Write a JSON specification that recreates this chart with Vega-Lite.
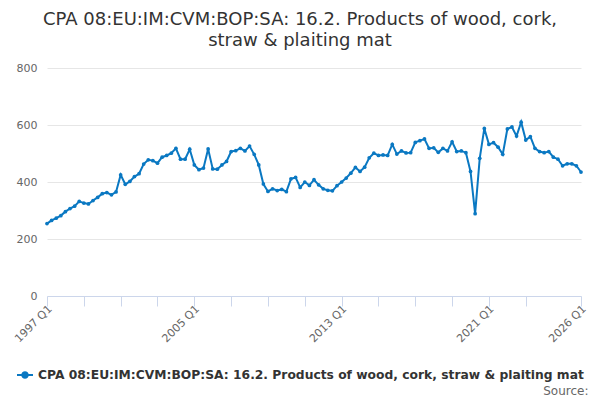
{
  "$schema": "https://vega.github.io/schema/vega-lite/v6.json",
  "title": {
    "text": ["CPA 08:EU:IM:CVM:BOP:SA: 16.2. Products of wood, cork,", "straw & plaiting mat"],
    "anchor": "middle",
    "frame": "group",
    "dx": -14,
    "offset": 12,
    "font": "DejaVu Sans",
    "fontSize": 18,
    "fontWeight": "normal",
    "color": "#333333",
    "lineHeight": 21
  },
  "autosize": "none",
  "width": 534,
  "height": 228,
  "padding": {"left": 47, "top": 68, "right": 19, "bottom": 104},
  "data": {
    "values": [
      {"q": "1997 Q1", "v": 254}, {"q": "1997 Q2", "v": 265}, {"q": "1997 Q3", "v": 273}, {"q": "1997 Q4", "v": 282},
      {"q": "1998 Q1", "v": 296}, {"q": "1998 Q2", "v": 307}, {"q": "1998 Q3", "v": 315}, {"q": "1998 Q4", "v": 332},
      {"q": "1999 Q1", "v": 326}, {"q": "1999 Q2", "v": 323}, {"q": "1999 Q3", "v": 335}, {"q": "1999 Q4", "v": 346},
      {"q": "2000 Q1", "v": 359}, {"q": "2000 Q2", "v": 363}, {"q": "2000 Q3", "v": 355}, {"q": "2000 Q4", "v": 365},
      {"q": "2001 Q1", "v": 425}, {"q": "2001 Q2", "v": 392}, {"q": "2001 Q3", "v": 402}, {"q": "2001 Q4", "v": 419},
      {"q": "2002 Q1", "v": 429}, {"q": "2002 Q2", "v": 463}, {"q": "2002 Q3", "v": 478}, {"q": "2002 Q4", "v": 475},
      {"q": "2003 Q1", "v": 466}, {"q": "2003 Q2", "v": 487}, {"q": "2003 Q3", "v": 493}, {"q": "2003 Q4", "v": 501},
      {"q": "2004 Q1", "v": 518}, {"q": "2004 Q2", "v": 480}, {"q": "2004 Q3", "v": 480}, {"q": "2004 Q4", "v": 515},
      {"q": "2005 Q1", "v": 460}, {"q": "2005 Q2", "v": 443}, {"q": "2005 Q3", "v": 449}, {"q": "2005 Q4", "v": 516},
      {"q": "2006 Q1", "v": 446}, {"q": "2006 Q2", "v": 445}, {"q": "2006 Q3", "v": 460}, {"q": "2006 Q4", "v": 472},
      {"q": "2007 Q1", "v": 507}, {"q": "2007 Q2", "v": 510}, {"q": "2007 Q3", "v": 518}, {"q": "2007 Q4", "v": 509},
      {"q": "2008 Q1", "v": 526}, {"q": "2008 Q2", "v": 497}, {"q": "2008 Q3", "v": 460}, {"q": "2008 Q4", "v": 393},
      {"q": "2009 Q1", "v": 367}, {"q": "2009 Q2", "v": 376}, {"q": "2009 Q3", "v": 370}, {"q": "2009 Q4", "v": 374},
      {"q": "2010 Q1", "v": 366}, {"q": "2010 Q2", "v": 411}, {"q": "2010 Q3", "v": 416}, {"q": "2010 Q4", "v": 381},
      {"q": "2011 Q1", "v": 400}, {"q": "2011 Q2", "v": 388}, {"q": "2011 Q3", "v": 408}, {"q": "2011 Q4", "v": 390},
      {"q": "2012 Q1", "v": 376}, {"q": "2012 Q2", "v": 371}, {"q": "2012 Q3", "v": 369}, {"q": "2012 Q4", "v": 387},
      {"q": "2013 Q1", "v": 400}, {"q": "2013 Q2", "v": 414}, {"q": "2013 Q3", "v": 431}, {"q": "2013 Q4", "v": 451},
      {"q": "2014 Q1", "v": 437}, {"q": "2014 Q2", "v": 452}, {"q": "2014 Q3", "v": 485}, {"q": "2014 Q4", "v": 501},
      {"q": "2015 Q1", "v": 493}, {"q": "2015 Q2", "v": 495}, {"q": "2015 Q3", "v": 493}, {"q": "2015 Q4", "v": 532},
      {"q": "2016 Q1", "v": 498}, {"q": "2016 Q2", "v": 509}, {"q": "2016 Q3", "v": 502}, {"q": "2016 Q4", "v": 503},
      {"q": "2017 Q1", "v": 539}, {"q": "2017 Q2", "v": 545}, {"q": "2017 Q3", "v": 551}, {"q": "2017 Q4", "v": 518},
      {"q": "2018 Q1", "v": 520}, {"q": "2018 Q2", "v": 504}, {"q": "2018 Q3", "v": 518}, {"q": "2018 Q4", "v": 509},
      {"q": "2019 Q1", "v": 541}, {"q": "2019 Q2", "v": 507}, {"q": "2019 Q3", "v": 509}, {"q": "2019 Q4", "v": 503},
      {"q": "2020 Q1", "v": 437}, {"q": "2020 Q2", "v": 289}, {"q": "2020 Q3", "v": 483}, {"q": "2020 Q4", "v": 588},
      {"q": "2021 Q1", "v": 532}, {"q": "2021 Q2", "v": 538}, {"q": "2021 Q3", "v": 522}, {"q": "2021 Q4", "v": 497},
      {"q": "2022 Q1", "v": 586}, {"q": "2022 Q2", "v": 593}, {"q": "2022 Q3", "v": 561}, {"q": "2022 Q4", "v": 610},
      {"q": "2023 Q1", "v": 547}, {"q": "2023 Q2", "v": 559}, {"q": "2023 Q3", "v": 518}, {"q": "2023 Q4", "v": 507},
      {"q": "2024 Q1", "v": 503}, {"q": "2024 Q2", "v": 507}, {"q": "2024 Q3", "v": 487}, {"q": "2024 Q4", "v": 480},
      {"q": "2025 Q1", "v": 457}, {"q": "2025 Q2", "v": 464}, {"q": "2025 Q3", "v": 464}, {"q": "2025 Q4", "v": 457},
      {"q": "2026 Q1", "v": 435}
    ]
  },
  "mark": {
    "type": "line",
    "strokeWidth": 2,
    "point": {"filled": true, "size": 14}
  },
  "encoding": {
    "x": {
      "field": "q",
      "type": "ordinal",
      "scale": {"type": "point", "padding": 0},
      "axis": {
        "title": "Source:",
        "titleX": 541,
        "titleY": 94,
        "titleAlign": "right",
        "titleBaseline": "middle",
        "titleFontWeight": "normal",
        "titleFontSize": 12,
        "titleColor": "#666666",
        "values": ["1997 Q1", "1999 Q1", "2001 Q1", "2003 Q1", "2005 Q1", "2007 Q1", "2009 Q1", "2011 Q1", "2013 Q1", "2015 Q1", "2017 Q1", "2019 Q1", "2021 Q1", "2023 Q1", "2026 Q1"],
        "labelExpr": "indexof(['1997 Q1', '2005 Q1', '2013 Q1', '2021 Q1', '2026 Q1'], datum.value) >= 0 ? datum.value : ''",
        "labelAngle": -45,
        "labelAlign": "right",
        "labelBaseline": "middle",
        "labelPadding": 1,
        "labelOffset": 3,
        "tickSize": 10,
        "grid": false
      }
    },
    "y": {
      "field": "v",
      "type": "quantitative",
      "scale": {"domain": [0, 800]},
      "axis": {
        "title": null,
        "values": [0, 200, 400, 600, 800],
        "ticks": false,
        "domain": false,
        "labelPadding": 10
      }
    },
    "color": {
      "datum": "CPA 08:EU:IM:CVM:BOP:SA: 16.2. Products of wood, cork, straw & plaiting mat",
      "scale": {"range": ["#0a78c2"]},
      "legend": {
        "title": null,
        "orient": "none",
        "legendX": -31,
        "legendY": 298,
        "symbolType": "M-1,0H1M-0.34,0A0.34,0.34 0 1,0 0.34,0A0.34,0.34 0 1,0 -0.34,0Z",
        "symbolSize": 256,
        "symbolStrokeWidth": 2,
        "symbolFillColor": "#0a78c2",
        "symbolStrokeColor": "#0a78c2",
        "labelFont": "DejaVu Sans",
        "labelFontSize": 12.3,
        "labelFontWeight": "bold",
        "labelColor": "#333333",
        "labelLimit": 700
      }
    }
  },
  "config": {
    "font": "DejaVu Sans",
    "view": {"stroke": null},
    "axis": {
      "labelFont": "DejaVu Sans",
      "labelFontSize": 11,
      "labelColor": "#666666",
      "titleFont": "DejaVu Sans",
      "gridColor": "#e6e6e6",
      "domainColor": "#ccd6eb",
      "tickColor": "#ccd6eb"
    }
  }
}
